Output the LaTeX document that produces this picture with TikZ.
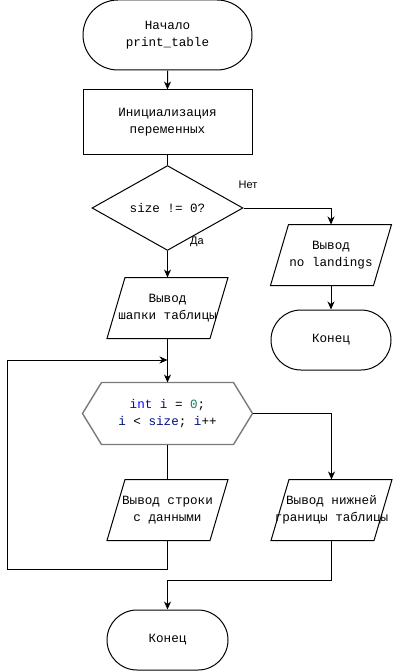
\documentclass[tikz,border=0pt]{standalone}
\usepackage{fontspec}
\setmainfont{Liberation Sans}
\setmonofont{Liberation Mono}
\usetikzlibrary{shapes.geometric,shapes.misc,arrows.meta,calc}

\definecolor{kwblue}{HTML}{0000FF}
\definecolor{varblue}{HTML}{001080}
\definecolor{numgreen}{HTML}{098658}
\definecolor{hexgray}{HTML}{7A7A7A}

\tikzset{
  base/.style={font=\ttfamily\fontsize{12.6}{17}\selectfont, align=center, inner sep=0pt, line width=1pt},
  terminal/.style={base, draw, rounded rectangle, minimum height=60pt},
  procbox/.style={base, draw, rectangle, minimum width=169pt, minimum height=65pt},
  decision/.style={base, draw, diamond, minimum width=151pt, minimum height=76pt},
  iobox/.style={base, draw=none, rectangle, minimum width=120pt, minimum height=60pt},
  loopbox/.style={base, draw=none, rectangle, minimum width=169pt, minimum height=61pt},
  outline/.style={draw, line width=1pt},
  flow/.style={line width=1pt, -{Stealth[length=8pt,width=7pt,inset=2.5pt]}},
  plain/.style={line width=1pt},
  lbl/.style={font=\fontsize{11}{13}\selectfont, inner sep=0pt},
}

\begin{document}
\begin{tikzpicture}[x=1pt, y=-1pt]
  \fill[white] (0,0) rectangle (392,671);
  \useasboundingbox (0,0) rectangle (392,671);

  % blocks
  \node[terminal, minimum width=169pt, minimum height=70pt] (start) at (167.5,35) {Начало\\print\_table};
  \node[procbox] (init) at (167.5,122.5) {Инициализация\\переменных};
  \node[decision] (check) at (167.5,208) {size != 0?};

  \node[iobox] (nodata) at (331,255) {Вывод\\no landings};
  \node[terminal, minimum width=120pt] (endA) at (331,340) {Конец};

  \node[iobox] (head) at (167.5,308) {Вывод\\шапки таблицы};
  \node[loopbox] (loop) at (167.5,413.5) {%
    \textcolor{kwblue}{int} \textcolor{varblue}{i} = \textcolor{numgreen}{0};\\
    \textcolor{varblue}{i} < \textcolor{varblue}{size}; \textcolor{varblue}{i}++};
  \node[iobox] (row) at (167.5,510) {Вывод строки\\с данными};
  \node[iobox] (foot) at (331.5,510) {Вывод нижней\\границы таблицы};
  \node[terminal, minimum width=121pt] (endB) at (167.5,640) {Конец};

  % parallelogram outlines for the input/output blocks
  \foreach \n in {nodata,head,row,foot}{
    \draw[outline] ($(\n.north west)+(18,0)$) -- (\n.north east)
      -- ($(\n.south east)+(-18,0)$) -- (\n.south west) -- cycle;
  }
  % hexagon outline for the loop header
  \draw[line width=1.4pt, draw=hexgray] (loop.west) -- ($(loop.north west)+(19,0)$)
    -- ($(loop.north east)+(-19,0)$) -- (loop.east)
    -- ($(loop.south east)+(-19,0)$) -- ($(loop.south west)+(19,0)$) -- cycle;

  % connectors
  \coordinate (merge) at (167.5,360);
  \coordinate (back) at (7,360);

  \draw[flow] (start) -- (init);
  \draw[plain] (init) -- (check);
  \draw[flow] (check.east) -| (nodata.north);
  \draw[flow] (check.south) -- (head.north);
  \draw[flow] (nodata) -- (endA);
  \draw[flow] (head.south) -- (loop.north);
  \draw[plain] (loop.south) -- (row.north);
  \draw[flow] (row.south) -- ++(0,29) -| (back) -- (merge);
  \draw[flow] (loop.east) -| (foot.north);
  \draw[flow] (foot.south) -- ++(0,40) -| (endB.north);

  % branch labels
  \node[lbl] (yes) at (197,242) {Да};
  \node[lbl] (no) at (248,185) {Нет};
\end{tikzpicture}
\end{document}
